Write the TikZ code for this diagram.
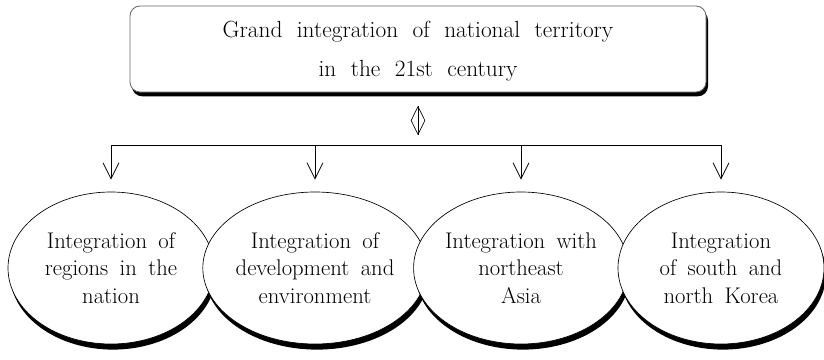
\documentclass[tikz,border=0pt]{standalone}
\usetikzlibrary{shapes.geometric,arrows.meta,shadows}
% slightly wider word spaces for the labels
\newcommand{\widewords}{\spaceskip=0.5em plus 0.1em\relax}
\newcommand{\widerwords}{\spaceskip=0.62em plus 0.1em\relax}
\begin{document}
\begin{tikzpicture}[x=0.75pt,y=-0.75pt,
  title/.style={draw=black!60, line width=0.6pt, rounded corners=7.5pt, fill=white,
    minimum width=432pt, minimum height=64.5pt, align=center, inner sep=0pt,
    text depth=0pt,
    font={\fontsize{17.5}{29}\selectfont\widerwords},
    drop shadow={shadow xshift=1.5pt, shadow yshift=-3.2pt, opacity=1, fill=black}},
  goal/.style={ellipse, draw, line width=0.5pt, fill=white, inner sep=0pt,
    minimum width=154.5pt, minimum height=114pt, align=center,
    font={\fontsize{17}{20.6}\selectfont\widewords},
    drop shadow={shadow xshift=1.5pt, shadow yshift=-4.2pt, opacity=1, fill=black}},
  link/.style={diamond, draw, line width=0.5pt, inner sep=0pt,
    minimum width=10.5pt, minimum height=21pt},
  feed/.style={-{Straight Barb[length=12pt,width=12pt]}, line width=0.6pt, shorten >=9pt}
]
\useasboundingbox (0,0) rectangle (824,360);

% top goal
\node[title] (top) at (418,49) {Grand integration of national territory\\in the 21st century};

% two-way link symbol
\node[link] (swap) at (418,120.5) {};
\draw[line width=0.5pt] (swap.north) -- (swap.south);

% four integration areas
\node[goal] (e1) at (111,268) {Integration of\\regions in the\\nation};
\node[goal] (e2) at (315,268) {Integration of\\development and\\environment};
\node[goal] (e3) at (521,268) {Integration with\\northeast\\Asia};
\node[goal] (e4) at (721,268) {Integration\\of south and\\north Korea};

% distribution bar and arrows
\coordinate (bar) at (418,145);
\draw[line width=0.6pt] (e1 |- bar) -- (e4 |- bar);
\foreach \i in {1,...,4}
  \draw[feed] (e\i |- bar) -- (e\i.north);
\end{tikzpicture}
\end{document}
